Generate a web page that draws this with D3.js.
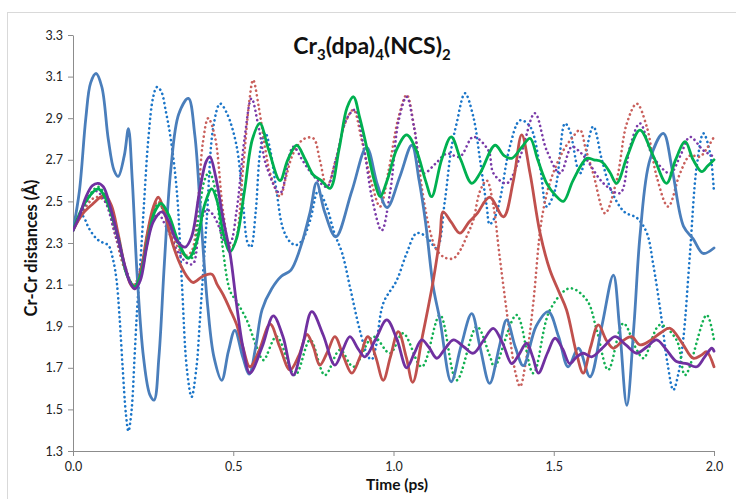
<!DOCTYPE html>
<html>
<head>
<meta charset="utf-8">
<script src="https://cdn.jsdelivr.net/npm/d3@7"></script>
<style>
  html, body { margin: 0; padding: 0; background: #fff; }
  svg { display: block; }
</style>
</head>
<body>
<svg id="chart" width="736" height="499"></svg>
<script>
// ---------------- data ----------------
const xTicks = [0.0, 0.5, 1.0, 1.5, 2.0];
const yTicks = [1.3, 1.5, 1.7, 1.9, 2.1, 2.3, 2.5, 2.7, 2.9, 3.1, 3.3];

// [time (ps), Cr-Cr distance (Å)]
const blueSolid = [[0,2.36],[0.02,2.55],[0.04,2.9],[0.055,3.07],[0.072,3.115],[0.09,3.05],[0.11,2.8],[0.128,2.65],[0.141,2.62],[0.16,2.72],[0.173,2.85],[0.185,2.6],[0.2,2.15],[0.22,1.75],[0.24,1.57],[0.253,1.545],[0.268,1.75],[0.285,2.2],[0.305,2.65],[0.33,2.92],[0.36,2.995],[0.38,2.82],[0.40,2.4],[0.42,2.0],[0.44,1.75],[0.464,1.64],[0.485,1.78],[0.505,1.88],[0.53,1.75],[0.55,1.67],[0.57,1.8],[0.59,1.98],[0.62,2.08],[0.65,2.14],[0.68,2.17],[0.71,2.28],[0.74,2.45],[0.76,2.59],[0.785,2.45],[0.82,2.33],[0.87,2.55],[0.916,2.76],[0.95,2.58],[0.98,2.47],[1.02,2.62],[1.057,2.77],[1.08,2.6],[1.1,2.4],[1.124,2.09],[1.145,1.93],[1.18,1.633],[1.21,1.8],[1.244,1.96],[1.27,1.8],[1.30,1.625],[1.33,1.8],[1.353,1.93],[1.38,1.8],[1.405,1.71],[1.445,1.9],[1.483,1.97],[1.515,1.85],[1.545,1.705],[1.577,1.795],[1.613,1.657],[1.65,1.9],[1.686,2.146],[1.705,1.9],[1.728,1.52],[1.75,1.9],[1.77,2.35],[1.80,2.7],[1.842,2.827],[1.87,2.65],[1.905,2.38],[1.935,2.32],[1.966,2.25],[2.0,2.276]];

const redSolid = [[0,2.36],[0.03,2.44],[0.063,2.49],[0.085,2.52],[0.1,2.53],[0.12,2.48],[0.14,2.35],[0.16,2.2],[0.18,2.1],[0.193,2.08],[0.21,2.15],[0.23,2.33],[0.25,2.47],[0.266,2.52],[0.285,2.45],[0.31,2.3],[0.334,2.2],[0.36,2.13],[0.375,2.11],[0.405,2.14],[0.433,2.15],[0.45,2.1],[0.469,2.05],[0.49,1.98],[0.51,1.91],[0.53,1.8],[0.552,1.705],[0.58,1.78],[0.615,1.91],[0.645,1.8],[0.677,1.69],[0.705,1.76],[0.73,1.86],[0.75,1.8],[0.77,1.713],[0.795,1.78],[0.817,1.85],[0.845,1.75],[0.87,1.674],[0.895,1.75],[0.92,1.85],[0.945,1.75],[0.968,1.64],[0.99,1.75],[1.015,1.874],[1.04,1.75],[1.06,1.63],[1.09,1.85],[1.124,2.12],[1.145,2.33],[1.155,2.45],[1.18,2.40],[1.207,2.347],[1.235,2.4],[1.26,2.44],[1.30,2.52],[1.343,2.426],[1.374,2.60],[1.40,2.82],[1.426,2.635],[1.457,2.35],[1.488,2.17],[1.515,2.07],[1.54,1.978],[1.571,1.77],[1.592,1.674],[1.615,1.8],[1.639,1.906],[1.665,1.83],[1.686,1.794],[1.715,1.83],[1.743,1.85],[1.769,1.81],[1.80,1.83],[1.835,1.87],[1.863,1.89],[1.9,1.82],[1.935,1.746],[1.96,1.76],[1.977,1.777],[2.0,1.705]];

const greenSolid = [[0,2.36],[0.04,2.5],[0.078,2.56],[0.1,2.52],[0.14,2.33],[0.17,2.14],[0.193,2.09],[0.21,2.14],[0.235,2.33],[0.255,2.45],[0.275,2.49],[0.3,2.43],[0.33,2.3],[0.36,2.226],[0.385,2.3],[0.41,2.48],[0.433,2.56],[0.45,2.5],[0.47,2.34],[0.49,2.258],[0.51,2.32],[0.535,2.55],[0.56,2.8],[0.583,2.875],[0.61,2.75],[0.646,2.60],[0.67,2.7],[0.698,2.77],[0.725,2.7],[0.75,2.627],[0.775,2.6],[0.802,2.563],[0.83,2.75],[0.855,2.95],[0.875,3.003],[0.895,2.9],[0.916,2.763],[0.94,2.6],[0.958,2.523],[0.98,2.6],[1.01,2.75],[1.041,2.82],[1.07,2.75],[1.1,2.6],[1.119,2.523],[1.15,2.7],[1.18,2.81],[1.21,2.7],[1.244,2.587],[1.27,2.635],[1.317,2.77],[1.345,2.72],[1.369,2.707],[1.40,2.76],[1.426,2.803],[1.45,2.7],[1.478,2.587],[1.505,2.53],[1.53,2.50],[1.56,2.6],[1.603,2.707],[1.625,2.70],[1.65,2.69],[1.675,2.64],[1.696,2.587],[1.73,2.72],[1.769,2.843],[1.81,2.72],[1.852,2.587],[1.88,2.7],[1.91,2.787],[1.935,2.7],[1.962,2.643],[1.98,2.67],[2.0,2.70]];

const purpleSolid = [[0,2.36],[0.02,2.43],[0.04,2.52],[0.06,2.575],[0.078,2.587],[0.095,2.57],[0.115,2.48],[0.14,2.33],[0.16,2.2],[0.178,2.11],[0.193,2.08],[0.21,2.12],[0.23,2.28],[0.25,2.4],[0.277,2.45],[0.30,2.4],[0.32,2.32],[0.35,2.28],[0.37,2.33],[0.395,2.55],[0.415,2.69],[0.427,2.715],[0.445,2.62],[0.469,2.41],[0.49,2.25],[0.51,2.01],[0.53,1.8],[0.552,1.675],[0.59,1.8],[0.625,1.95],[0.655,1.85],[0.687,1.665],[0.715,1.8],[0.745,1.97],[0.78,1.86],[0.817,1.713],[0.84,1.78],[0.864,1.85],[0.89,1.79],[0.911,1.753],[0.945,1.84],[0.979,1.93],[1.01,1.84],[1.041,1.70],[1.065,1.77],[1.088,1.834],[1.11,1.8],[1.135,1.746],[1.16,1.79],[1.187,1.834],[1.22,1.8],[1.249,1.77],[1.28,1.83],[1.311,1.89],[1.34,1.82],[1.369,1.72],[1.39,1.76],[1.415,1.818],[1.435,1.75],[1.452,1.674],[1.48,1.77],[1.504,1.842],[1.528,1.79],[1.55,1.72],[1.57,1.75],[1.592,1.77],[1.618,1.753],[1.655,1.8],[1.691,1.85],[1.725,1.81],[1.759,1.77],[1.79,1.8],[1.821,1.834],[1.85,1.79],[1.883,1.73],[1.915,1.72],[1.946,1.705],[1.97,1.75],[1.993,1.794],[2.0,1.78]];

const blueDotted = [[0,2.36],[0.02,2.42],[0.03,2.43],[0.05,2.37],[0.074,2.32],[0.095,2.3],[0.11,2.29],[0.125,2.22],[0.136,2.12],[0.145,1.95],[0.155,1.7],[0.165,1.48],[0.173,1.395],[0.183,1.5],[0.192,1.75],[0.2,1.98],[0.21,2.2],[0.222,2.5],[0.235,2.8],[0.25,3.0],[0.262,3.05],[0.275,3.03],[0.29,2.93],[0.305,2.8],[0.324,2.55],[0.34,2.1],[0.355,1.7],[0.37,1.56],[0.385,1.7],[0.396,1.93],[0.417,2.41],[0.438,2.86],[0.459,2.97],[0.48,2.924],[0.51,2.77],[0.53,2.5],[0.545,2.3],[0.555,2.28],[0.57,2.45],[0.585,2.75],[0.6,2.83],[0.615,2.75],[0.635,2.55],[0.655,2.37],[0.677,2.306],[0.695,2.29],[0.714,2.31],[0.74,2.41],[0.765,2.55],[0.79,2.48],[0.815,2.35],[0.84,2.25],[0.864,2.09],[0.895,1.88],[0.921,1.753],[0.932,1.74],[0.945,1.8],[0.968,2.01],[1.01,2.12],[1.041,2.25],[1.072,2.347],[1.103,2.33],[1.135,2.275],[1.16,2.5],[1.18,2.75],[1.197,2.875],[1.223,3.02],[1.249,2.907],[1.27,2.7],[1.291,2.475],[1.30,2.39],[1.315,2.42],[1.332,2.507],[1.363,2.763],[1.395,2.89],[1.426,2.86],[1.457,2.667],[1.478,2.475],[1.504,2.555],[1.535,2.875],[1.55,2.84],[1.582,2.635],[1.623,2.86],[1.65,2.7],[1.68,2.55],[1.72,2.45],[1.76,2.42],[1.79,2.35],[1.81,2.2],[1.835,1.95],[1.855,1.72],[1.873,1.593],[1.89,1.68],[1.905,1.85],[1.925,2.25],[1.946,2.667],[1.967,2.827],[1.988,2.73],[2.0,2.54]];

const redDotted = [[0,2.36],[0.03,2.45],[0.07,2.52],[0.1,2.5],[0.13,2.35],[0.16,2.18],[0.19,2.1],[0.215,2.2],[0.24,2.4],[0.265,2.5],[0.29,2.42],[0.32,2.3],[0.35,2.24],[0.37,2.26],[0.39,2.5],[0.405,2.78],[0.422,2.90],[0.443,2.81],[0.469,2.443],[0.49,2.28],[0.505,2.3],[0.53,2.65],[0.55,2.98],[0.562,3.084],[0.58,2.95],[0.6,2.75],[0.615,2.635],[0.646,2.523],[0.665,2.62],[0.687,2.73],[0.72,2.8],[0.75,2.803],[0.77,2.7],[0.792,2.57],[0.82,2.7],[0.85,2.88],[0.875,2.94],[0.9,2.8],[0.93,2.6],[0.958,2.475],[0.985,2.65],[1.015,2.9],[1.041,3.012],[1.065,2.85],[1.09,2.55],[1.115,2.35],[1.135,2.266],[1.16,2.23],[1.187,2.226],[1.21,2.27],[1.228,2.33],[1.249,2.41],[1.27,2.55],[1.291,2.60],[1.312,2.475],[1.33,2.25],[1.355,1.95],[1.38,1.68],[1.395,1.61],[1.415,1.75],[1.436,2.01],[1.462,2.41],[1.49,2.60],[1.53,2.745],[1.555,2.8],[1.582,2.843],[1.60,2.75],[1.623,2.635],[1.66,2.443],[1.696,2.60],[1.728,2.875],[1.759,2.97],[1.79,2.86],[1.821,2.62],[1.857,2.475],[1.894,2.635],[1.925,2.72],[1.956,2.715],[1.98,2.76],[2.0,2.81]];

const greenDotted = [[0,2.36],[0.04,2.5],[0.078,2.57],[0.1,2.53],[0.14,2.34],[0.17,2.14],[0.193,2.09],[0.215,2.18],[0.24,2.4],[0.266,2.49],[0.29,2.43],[0.32,2.32],[0.35,2.24],[0.37,2.226],[0.39,2.4],[0.41,2.6],[0.425,2.64],[0.445,2.55],[0.465,2.3],[0.49,2.07],[0.51,2.02],[0.542,1.93],[0.573,1.8],[0.594,1.737],[0.635,1.85],[0.693,1.665],[0.74,1.834],[0.786,1.665],[0.833,1.786],[0.875,1.705],[0.937,1.85],[0.989,1.77],[1.03,1.866],[1.088,1.705],[1.145,1.954],[1.197,1.64],[1.26,1.898],[1.30,1.76],[1.315,1.705],[1.384,1.954],[1.436,1.674],[1.488,1.978],[1.55,2.082],[1.603,2.026],[1.634,1.882],[1.67,1.69],[1.717,1.914],[1.759,1.786],[1.78,1.746],[1.831,1.906],[1.883,1.834],[1.91,1.665],[1.977,1.954],[2.0,1.834]];

const purpleDotted = [[0,2.36],[0.03,2.46],[0.07,2.55],[0.1,2.5],[0.13,2.35],[0.16,2.2],[0.19,2.09],[0.215,2.2],[0.24,2.38],[0.265,2.44],[0.29,2.38],[0.33,2.25],[0.36,2.2],[0.375,2.2],[0.395,2.38],[0.417,2.46],[0.435,2.44],[0.455,2.38],[0.475,2.30],[0.49,2.30],[0.51,2.45],[0.535,2.8],[0.557,2.995],[0.58,2.85],[0.604,2.667],[0.646,2.54],[0.687,2.763],[0.715,2.7],[0.74,2.643],[0.765,2.6],[0.792,2.57],[0.82,2.7],[0.855,2.9],[0.88,2.94],[0.905,2.78],[0.935,2.5],[0.963,2.36],[0.99,2.55],[1.015,2.88],[1.041,3.003],[1.065,2.85],[1.093,2.635],[1.13,2.68],[1.166,2.73],[1.207,2.715],[1.249,2.81],[1.296,2.745],[1.312,2.635],[1.353,2.587],[1.395,2.715],[1.441,2.924],[1.478,2.745],[1.52,2.635],[1.556,2.763],[1.58,2.74],[1.603,2.70],[1.655,2.587],[1.707,2.54],[1.738,2.763],[1.769,2.875],[1.81,2.715],[1.863,2.635],[1.895,2.72],[1.925,2.81],[1.967,2.745],[2.0,2.715]];

const seriesList = [
  { data: blueDotted,   color: "#1a75c8", dotted: true },
  { data: redDotted,    color: "#c9605c", dotted: true },
  { data: greenDotted,  color: "#12b052", dotted: true },
  { data: purpleDotted, color: "#7a3aa8", dotted: true },
  { data: blueSolid,    color: "#4a7ebb", dotted: false },
  { data: redSolid,     color: "#c0504d", dotted: false },
  { data: greenSolid,   color: "#00b050", dotted: false },
  { data: purpleSolid,  color: "#7030a0", dotted: false }
];

// ---------------- drawing ----------------
const svg = d3.select("#chart");
const FONT = "Lato, 'Open Sans', 'Liberation Sans', sans-serif";

// outer chart frame
svg.append("rect")
  .attr("x", 7.5).attr("y", 12.5)
  .attr("width", 800).attr("height", 600)
  .attr("fill", "none").attr("stroke", "#d9d9d9").attr("stroke-width", 1);

const x = d3.scaleLinear().domain([0, 2]).range([73, 714]);
const y = d3.scaleLinear().domain([1.3, 3.3]).range([451, 35]);

// y axis
const yAxis = svg.append("g")
  .attr("transform", "translate(73,0)")
  .call(d3.axisLeft(y).tickValues(yTicks).tickFormat(d3.format(".1f"))
    .tickSize(5).tickSizeOuter(0).tickPadding(5));
// x axis
const xAxis = svg.append("g")
  .attr("transform", "translate(0,451)")
  .call(d3.axisBottom(x).tickValues(xTicks).tickFormat(d3.format(".1f"))
    .tickSize(5).tickSizeOuter(0).tickPadding(6));

[yAxis, xAxis].forEach(g => {
  g.select(".domain").attr("stroke", "#8c8c8c");
  g.selectAll(".tick line").attr("stroke", "#8c8c8c");
  g.selectAll(".tick text").attr("fill", "#222").style("font-family", FONT).style("font-size", "12.5px");
});

// lines
const line = d3.line()
  .x(d => x(d[0]))
  .y(d => y(d[1]))
  .curve(d3.curveCatmullRom.alpha(0.5));

const clipId = "plotclip";
svg.append("clipPath").attr("id", clipId)
  .append("rect").attr("x", 73).attr("y", 30).attr("width", 645).attr("height", 421);

const plot = svg.append("g").attr("clip-path", `url(#${clipId})`);
seriesList.forEach(s => {
  const p = plot.append("path")
    .datum(s.data)
    .attr("d", line)
    .attr("fill", "none")
    .attr("stroke", s.color)
    .attr("stroke-linejoin", "round");
  if (s.dotted) {
    p.attr("stroke-width", 2.6)
     .attr("stroke-linecap", "round")
     .attr("stroke-dasharray", "0.1 4.6");
  } else {
    p.attr("stroke-width", 2.8)
     .attr("stroke-linecap", "round");
  }
});

// title
const title = svg.append("text")
  .attr("x", 372).attr("y", 54)
  .attr("text-anchor", "middle")
  .style("font-family", FONT).style("font-size", "23px").style("font-weight", "bold")
  .attr("fill", "#111");
const parts = [["Cr", false], ["3", true], ["(dpa)", false], ["4", true], ["(NCS)", false], ["2", true]];
parts.forEach(([t, sub], i) => {
  const ts = title.append("tspan").text(t);
  if (sub) ts.attr("dy", 6).style("font-size", "15px");
  else if (i > 0) ts.attr("dy", -6);
});

// axis titles
svg.append("text")
  .attr("x", 397).attr("y", 490)
  .attr("text-anchor", "middle")
  .style("font-family", FONT).style("font-size", "15.5px").style("font-weight", "bold")
  .attr("fill", "#111")
  .text("Time (ps)");

svg.append("text")
  .attr("transform", "translate(37,248) rotate(-90)")
  .attr("text-anchor", "middle")
  .style("font-family", FONT).style("font-size", "16.5px").style("font-weight", "bold")
  .attr("fill", "#111")
  .text("Cr-Cr distances (Å)");
</script>
</body>
</html>
